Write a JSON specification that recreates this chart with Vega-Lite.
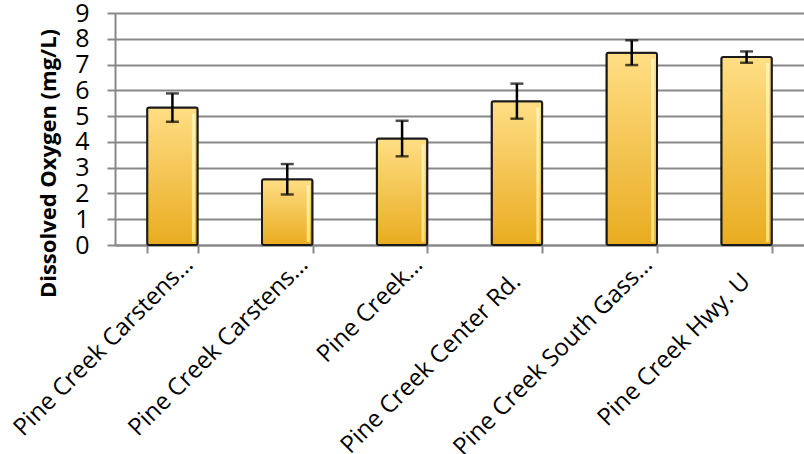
{
  "$schema": "https://vega.github.io/schema/vega-lite/v6.json",
  "autosize": "none",
  "width": 689,
  "height": 232,
  "padding": {"left": 115, "top": 13, "right": 0, "bottom": 209},
  "background": "white",
  "config": {
    "view": {"stroke": null},
    "font": "Open Sans"
  },
  "data": {
    "values": [
      {"site": "Pine Creek Carstens…", "value": 5.33, "err": 0.55},
      {"site": "Pine Creek Carstens…\u200b", "value": 2.55, "err": 0.59},
      {"site": "Pine Creek…", "value": 4.13, "err": 0.69},
      {"site": "Pine Creek Center Rd.", "value": 5.58, "err": 0.68},
      {"site": "Pine Creek South Gass…", "value": 7.46, "err": 0.48},
      {"site": "Pine Creek Hwy. U", "value": 7.29, "err": 0.22}
    ]
  },
  "encoding": {
    "x": {
      "field": "site",
      "type": "nominal",
      "sort": null,
      "scale": {"paddingInner": 0.56, "paddingOuter": 0.28},
      "axis": {
        "title": null,
        "tickBand": "extent",
        "domainColor": "#888888",
        "domainWidth": 2,
        "tickColor": "#888888",
        "tickWidth": 2,
        "tickSize": 8,
        "labels": false
      }
    },
    "y": {
      "field": "value",
      "type": "quantitative",
      "title": "Dissolved Oxygen (mg/L)",
      "scale": {"domain": [0, 9], "nice": false},
      "axis": {
        "title": "Dissolved Oxygen (mg/L)",
        "titleFontSize": 22,
        "titleFontWeight": "bold",
        "titleColor": "#000000",
        "titleAngle": 270,
        "titleAlign": "center",
        "titleBaseline": "middle",
        "titleX": -67,
        "titleY": 150,
        "values": [0, 1, 2, 3, 4, 5, 6, 7, 8, 9],
        "grid": true,
        "gridColor": "#888888",
        "gridWidth": 2,
        "domainColor": "#888888",
        "domainWidth": 2,
        "tickColor": "#888888",
        "tickWidth": 2,
        "tickSize": 8,
        "labelFontSize": 25,
        "labelColor": "#000000",
        "labelPadding": 18
      }
    }
  },
  "layer": [
    {
      "mark": {
        "type": "bar",
        "stroke": "#1a1a1a",
        "strokeWidth": 2,
        "cornerRadius": 2,
        "color": {
          "gradient": "linear",
          "x1": 0, "y1": 0, "x2": 0, "y2": 1,
          "stops": [
            {"offset": 0, "color": "#FFDE85"},
            {"offset": 1, "color": "#E9AC20"}
          ]
        }
      }
    },
    {
      "mark": {
        "type": "bar",
        "width": 3,
        "xOffset": 21,
        "yOffset": 6,
        "y2Offset": -3,
        "color": {
          "gradient": "linear",
          "x1": 0, "y1": 0, "x2": 0, "y2": 1,
          "stops": [
            {"offset": 0, "color": "#FFF3B8"},
            {"offset": 1, "color": "#FFE27A"}
          ]
        }
      },
      "encoding": {
        "y2": {"datum": 0}
      }
    },
    {
      "mark": {
        "type": "errorbar",
        "ticks": {"size": 13, "thickness": 2.5, "color": "#000000"},
        "rule": {"strokeWidth": 2.5, "color": "#000000"}
      },
      "encoding": {
        "yError": {"field": "err"}
      }
    },
    {
      "transform": [{"filter": "indexof(datum.site, '…') >= 0"}],
      "mark": {
        "type": "text",
        "angle": -45,
        "align": "right",
        "baseline": "alphabetic",
        "fontSize": 24,
        "color": "#000000",
        "dx": 0.7,
        "dy": 30.4
      },
      "encoding": {
        "y": {"datum": 0, "type": "quantitative", "title": "Dissolved Oxygen (mg/L)"},
        "text": {"field": "site"}
      }
    },
    {
      "transform": [{"filter": "indexof(datum.site, '…') < 0"}],
      "mark": {
        "type": "text",
        "angle": -45,
        "align": "right",
        "baseline": "alphabetic",
        "fontSize": 24,
        "color": "#000000",
        "dx": -23.3,
        "dy": 30.4
      },
      "encoding": {
        "y": {"datum": 0, "type": "quantitative", "title": "Dissolved Oxygen (mg/L)"},
        "text": {"field": "site"}
      }
    }
  ]
}
